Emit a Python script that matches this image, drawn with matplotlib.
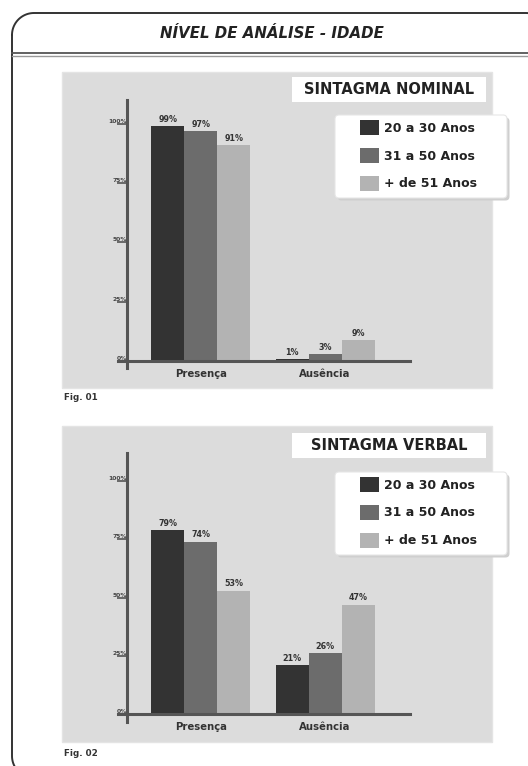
import numpy as np
import matplotlib
matplotlib.use("Agg")
import matplotlib.pyplot as plt
from matplotlib.patches import Rectangle, FancyBboxPatch

plt.rcParams['font.family'] = ['DejaVu Sans']

W, H = 528, 766

# data
categories = ["Presença", "Ausência"]
groups = ["20 a 30 Anos", "31 a 50 Anos", "+ de 51 Anos"]
nominal = [[99, 1], [97, 3], [91, 9]]
verbal = [[79, 21], [74, 26], [53, 47]]
yticks = [0, 25, 50, 75, 100]
ytick_labels = ["0%", "25%", "50%", "75%", "100%"]
colors = ["#333333", "#6c6c6c", "#b3b3b3"]


def fig_rect(l, t, r, b):
    # pixel box (top-left origin) -> figure fraction
    return [l / W, 1 - b / H, (r - l) / W, (b - t) / H]


def rounded_frame(l, t, r, b, rad):
    a = np.linspace(0, np.pi / 2, 20)
    xs, ys = [], []
    # corners clockwise, y grows downward
    xs += list(l + rad - rad * np.cos(a)); ys += list(t + rad - rad * np.sin(a))
    xs += list(r - rad + rad * np.sin(a)); ys += list(t + rad - rad * np.cos(a))
    xs += list(r - rad + rad * np.cos(a)); ys += list(b - rad + rad * np.sin(a))
    xs += list(l + rad - rad * np.sin(a)); ys += list(b - rad + rad * np.cos(a))
    xs.append(xs[0]); ys.append(ys[0])
    return xs, ys


fig = plt.figure(figsize=(W / 100, H / 100), dpi=100)

# background layer in pixel units
bg = fig.add_axes([0, 0, 1, 1], zorder=0)
bg.set_xlim(0, W)
bg.set_ylim(H, 0)
bg.axis("off")

fx, fy_ = rounded_frame(12, 13, 548, 778, 22)
bg.plot(fx, fy_, color="#333333", lw=1.4)
bg.plot([12, W], [53, 53], color="#555555", lw=1.3)
bg.plot([12, W], [56, 56], color="#999999", lw=1.0)
bg.text(272, 33, "NÍVEL DE ANÁLISE - IDADE", ha="center", va="center",
        fontsize=10.8, fontweight="bold", fontstyle="italic", color="#222222")

panels = [(72, 388, "SINTAGMA NOMINAL", 77, 102, "Fig. 01", 398, 115),
          (426, 742, "SINTAGMA VERBAL", 433, 458, "Fig. 02", 753, 472)]
for top, bot, name, bt, bb, fig_lbl, fy, lt in panels:
    bg.add_patch(Rectangle((62, top), 430, bot - top, fc="#dcdcdc", ec="#e4e4e4", lw=1))
    bg.add_patch(Rectangle((292, bt), 194, bb - bt, fc="white", ec="none"))
    bg.text(389, (bt + bb) / 2 + 0.5, name, ha="center", va="center",
            fontsize=10.5, fontweight="bold", color="#222222")
    bg.text(64, fy, fig_lbl, ha="left", va="center", fontsize=6.3,
            fontweight="bold", color="#333333")
    # legend box with soft shadow
    bg.add_patch(FancyBboxPatch((337.5, lt + 2.5), 172, 83,
                                boxstyle="round,pad=0,rounding_size=4",
                                fc="#cfcfcf", ec="none", zorder=1))
    bg.add_patch(FancyBboxPatch((335, lt), 172, 83,
                                boxstyle="round,pad=0,rounding_size=4",
                                fc="white", ec="#e6e6e6", lw=0.8, zorder=2))

# chart axes: (pixel box, ylim, legend top)
charts = [(nominal, (118, 100, 410, 368), (-2.95, 110.1), 115),
          (verbal, (118, 453, 410, 722), (-3.4, 112.0), 472)]

x = np.arange(len(categories))
width = 0.266
for values, box, ylim, leg_top in charts:
    ax = fig.add_axes(fig_rect(*box), zorder=2)
    ax.set_facecolor("none")
    ax.set_xlim(-0.669, 1.685)
    ax.set_ylim(*ylim)
    bars = []
    for i, (vals, c) in enumerate(zip(values, colors)):
        b = ax.bar(x + (i - 1) * width, vals, width, color=c, label=groups[i], zorder=2)
        ax.bar_label(b, labels=[f"{v}%" for v in vals], padding=1.5,
                     fontsize=5.8, fontweight="bold", color="#333333")
        bars.append(b)
    for s in ["top", "right"]:
        ax.spines[s].set_visible(False)
    ax.spines["left"].set_position(("data", -0.597))
    ax.spines["bottom"].set_position(("data", 0))
    for s in ["left", "bottom"]:
        ax.spines[s].set_color("#555555")
        ax.spines[s].set_linewidth(2.2)
        ax.spines[s].set_zorder(3)
    ax.set_yticks(yticks, ytick_labels)
    ax.tick_params(axis="y", length=7, width=1.2, color="#555555", pad=-7,
                   labelsize=4.3, labelcolor="#444444")
    for lbl in ax.get_yticklabels():
        lbl.set_va("bottom")
        lbl.set_fontweight("bold")
    ax.set_xticks(x, categories)
    ax.tick_params(axis="x", length=0, pad=6, labelsize=7.3)
    for lbl in ax.get_xticklabels():
        lbl.set_fontweight("bold")
        lbl.set_color("#333333")
    leg = ax.legend(handles=bars, loc="upper left",
                    bbox_to_anchor=(360 / W, 1 - (leg_top + 5) / H),
                    bbox_transform=fig.transFigure, fontsize=9,
                    handlelength=1.5, handleheight=1.5, labelspacing=1.0,
                    handletextpad=0.4, borderpad=0, borderaxespad=0,
                    frameon=False)
    for t in leg.get_texts():
        t.set_fontweight("bold")
        t.set_color("#222222")

fig.savefig("out.png", dpi=100)
